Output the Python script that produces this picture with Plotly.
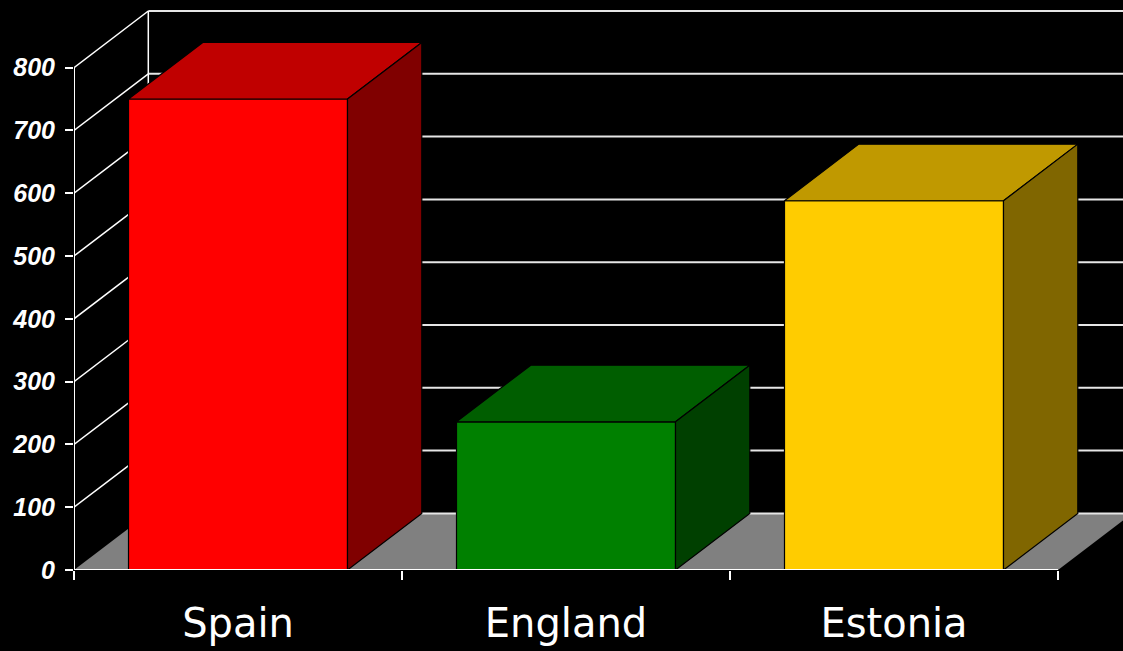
import plotly.graph_objects as go

# ---- data ----
categories = ["Spain", "England", "Estonia"]
values = [750, 236, 588]
front_colors = ["#FF0000", "#008000", "#FFCC00"]
top_colors = ["#C00000", "#005E00", "#C09900"]
side_colors = ["#800000", "#004000", "#806600"]
y_ticks = [0, 100, 200, 300, 400, 500, 600, 700, 800]

# ---- geometry (data units) ----
PX_PER_X = 328.0          # pixels per category unit
PX_PER_Y = 0.628          # pixels per value unit
DEPTH_X = 74.3 / PX_PER_X  # 3D depth offset in x units
DEPTH_Y = 56.6 / PX_PER_Y  # 3D depth offset in y units
BAR_W = 219.0 / PX_PER_X
N = len(categories)
YMAX = max(y_ticks)

L, B = 74, 81
W, H = 1123, 651
x_range = [0, (W - L) / PX_PER_X]
y_range = [0, (H - B) / PX_PER_Y]

fig = go.Figure()

def poly(xs, ys, fill, line_color=None, line_width=0):
    fig.add_trace(go.Scatter(
        x=list(xs) + [xs[0]], y=list(ys) + [ys[0]],
        mode="lines", fill="toself", fillcolor=fill,
        line=dict(color=line_color or fill, width=line_width),
        hoverinfo="skip", showlegend=False, cliponaxis=False))

def seg(xs, ys, color, width):
    fig.add_trace(go.Scatter(
        x=xs, y=ys, mode="lines", line=dict(color=color, width=width),
        hoverinfo="skip", showlegend=False, cliponaxis=False))

# floor
poly([0, N, N + DEPTH_X, DEPTH_X], [0, 0, DEPTH_Y, DEPTH_Y], "#808080")

# left wall gridlines (diagonal)
for v in y_ticks[1:]:
    seg([0, DEPTH_X], [v, v + DEPTH_Y], "#FFFFFF", 1.5)
# back wall gridlines
for v in y_ticks:
    seg([DEPTH_X, x_range[1] + 1], [v + DEPTH_Y, v + DEPTH_Y], "#E6E6E6", 2)
# back-left vertical edge
seg([DEPTH_X, DEPTH_X], [DEPTH_Y, YMAX + DEPTH_Y], "#FFFFFF", 1.5)
# front-left value axis line
seg([0, 0], [0, YMAX], "#FFFFFF", 2)

# bars
for i, v in enumerate(values):
    x0 = i + (1 - BAR_W) / 2
    x1 = x0 + BAR_W
    # front
    poly([x0, x1, x1, x0], [0, 0, v, v], front_colors[i], "#000000", 1.2)
    # top
    poly([x0, x1, x1 + DEPTH_X, x0 + DEPTH_X], [v, v, v + DEPTH_Y, v + DEPTH_Y],
         top_colors[i], "#000000", 1.2)
    # side
    poly([x1, x1 + DEPTH_X, x1 + DEPTH_X, x1], [0, DEPTH_Y, v + DEPTH_Y, v],
         side_colors[i], "#000000", 1.2)

# baseline of category axis
seg([0, N], [0, 0], "#FFFFFF", 2)

fig.update_layout(
    width=W, height=H,
    margin=dict(l=L, r=0, t=0, b=B, pad=0),
    paper_bgcolor="#000000", plot_bgcolor="#000000",
    showlegend=False,
    xaxis=dict(
        range=x_range, showgrid=False, zeroline=False, showline=False,
        tickmode="array", tickvals=[i + 0.5 for i in range(N)], ticktext=categories,
        ticks="", tickfont=dict(family="DejaVu Sans", size=40, color="#FFFFFF"),
        ticklabelstandoff=26,
        minor=dict(tickmode="array", tickvals=list(range(N + 1)), ticks="outside",
                   ticklen=9, tickwidth=2, tickcolor="#FFFFFF", showgrid=False),
        fixedrange=True,
    ),
    yaxis=dict(
        range=y_range, showgrid=False, zeroline=False, showline=False,
        tickmode="array", tickvals=y_ticks, ticks="outside", ticklen=8,
        tickwidth=2, tickcolor="#FFFFFF",
        tickfont=dict(family="Liberation Sans", size=25, color="#FFFFFF",
                      weight="bold", style="italic"),
        ticklabelstandoff=5,
        fixedrange=True,
    ),
)

fig.write_html(
    "out.html",
    config={"displayModeBar": False},
    post_script="document.body.style.margin='0';document.body.style.background='#000';",
)
